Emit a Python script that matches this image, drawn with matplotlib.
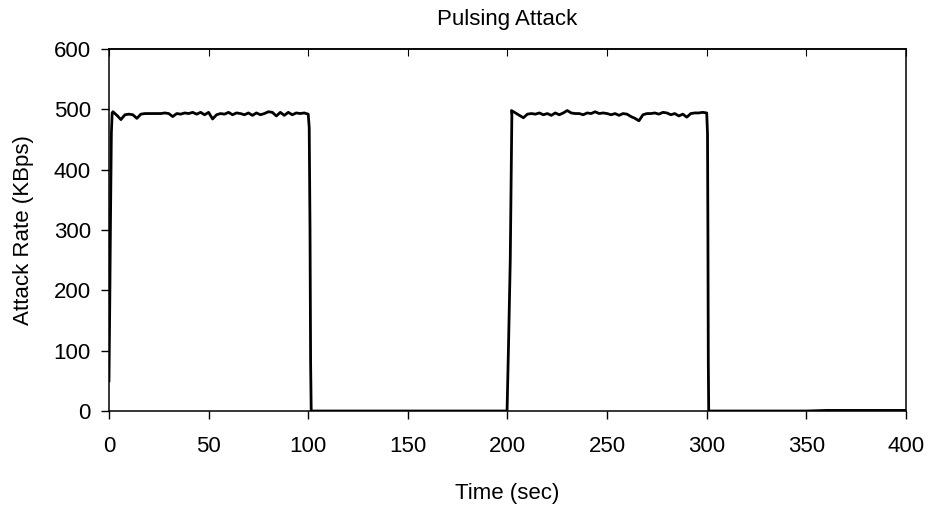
import matplotlib
matplotlib.use("Agg")
import matplotlib.pyplot as plt

plt.rcParams['font.family'] = ['Liberation Sans', 'DejaVu Sans']

# rise of first pulse
rise1_t = [0, 0.4, 0.8, 1.2, 1.6]
rise1_v = [50, 180, 330, 460, 494]

# first pulse plateau, every 2 sec
pulse1_t = list(range(2, 101, 2))
pulse1_v = [496, 490, 483, 491, 492, 491, 485, 492, 493, 493,
            493, 493, 493, 494, 493, 488, 493, 492, 494, 493,
            495, 492, 495, 491, 495, 484, 491, 493, 492, 495,
            491, 494, 493, 491, 494, 490, 494, 491, 493, 496,
            495, 489, 495, 490, 495, 491, 494, 493, 494, 492]

# fall of first pulse, idle period, rise of second pulse
gap1_t = [100.5, 100.9, 101.2, 101.5, 150, 199.8, 200.6, 201.4, 202.2]
gap1_v = [470, 300, 80, 0, 0, 0, 120, 250, 490]

# second pulse plateau
pulse2_t = list(range(202, 301, 2))
pulse2_v = [498, 494, 490, 486, 492, 493, 492, 494, 491, 493,
            490, 494, 491, 494, 498, 494, 493, 493, 491, 494,
            493, 496, 493, 494, 493, 491, 493, 490, 493, 492,
            488, 485, 481, 491, 493, 493, 494, 492, 495, 494,
            491, 493, 489, 492, 487, 493, 494, 494, 495, 494]

# fall of second pulse and tail
tail_t = [300.4, 300.6, 300.8, 301.0, 350, 360, 400]
tail_v = [460, 300, 80, 0, 0, 1, 1]

time = rise1_t + pulse1_t + gap1_t + pulse2_t + tail_t
rate = rise1_v + pulse1_v + gap1_v + pulse2_v + tail_v

fig = plt.figure(figsize=(9.29, 5.13), dpi=100)
ax = fig.add_axes([0.1173, 0.1988, 0.8579, 0.7057])
ax.plot(time, rate, color='black', lw=2.0, solid_joinstyle='round')

ax.set_xlim(0, 400)
ax.set_ylim(0, 600)
ax.set_xticks(range(0, 401, 50))
ax.set_yticks(range(0, 601, 100))
ax.tick_params(axis='both', direction='out', length=6, width=1, labelsize=16, pad=7)
ax.tick_params(axis='x', pad=12)
top = ax.secondary_xaxis('top')
top.set_xticks(range(0, 401, 50))
top.tick_params(direction='in', length=5, labeltop=False)
for s in ax.spines.values():
    s.set_linewidth(1.1)
top.spines['top'].set_linewidth(1.1)

ax.set_title("Pulsing Attack", fontsize=16, pad=17)
ax.set_xlabel("Time (sec)", fontsize=16, labelpad=19)
ax.set_ylabel("Attack Rate (KBps)", fontsize=16, labelpad=14)

fig.savefig("out.png", dpi=100)
